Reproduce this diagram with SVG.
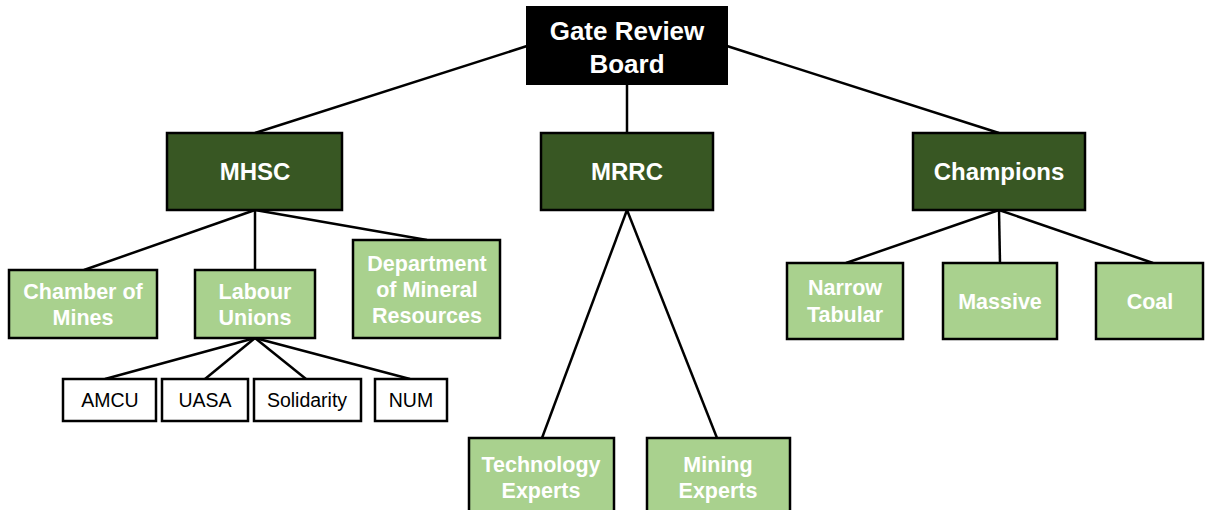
<svg xmlns="http://www.w3.org/2000/svg" width="1206" height="510" viewBox="0 0 1206 510">
<style>
.dk{fill:#385723;stroke:#000;stroke-width:2.5}
.lt{fill:#a9d18e;stroke:#000;stroke-width:2.5}
.wh{fill:#fff;stroke:#000;stroke-width:2.5}
.tw{font-family:"Liberation Sans",Arial,sans-serif;font-weight:bold;fill:#fff;text-anchor:middle}
.tb{font-family:"Liberation Sans",Arial,sans-serif;fill:#000;text-anchor:middle;font-size:19.5px}
.c{stroke:#000;stroke-width:2.5;fill:none}
</style>
<rect width="1206" height="510" fill="#fff"/>
<g id="connectors" class="c">
<line x1="527" y1="46" x2="255" y2="133"/>
<line x1="627" y1="84" x2="627" y2="133"/>
<line x1="727" y1="46" x2="999" y2="133"/>
<line x1="255" y1="210" x2="84" y2="270"/>
<line x1="255" y1="210" x2="255" y2="270"/>
<line x1="255" y1="210" x2="427" y2="240"/>
<line x1="255" y1="338" x2="105" y2="379"/>
<line x1="255" y1="338" x2="205" y2="379"/>
<line x1="255" y1="338" x2="306" y2="379"/>
<line x1="255" y1="338" x2="410" y2="379"/>
<line x1="627" y1="210" x2="542" y2="438"/>
<line x1="627" y1="210" x2="717" y2="438"/>
<line x1="999" y1="210" x2="846" y2="263"/>
<line x1="999" y1="210" x2="1000" y2="263"/>
<line x1="999" y1="210" x2="1153" y2="263"/>
</g>
<g id="gate">
<rect x="527" y="7" width="200" height="77" fill="#000" stroke="#000" stroke-width="2"/>
<text class="tw" font-size="26" x="627" y="40">Gate Review</text>
<text class="tw" font-size="26" x="627" y="73">Board</text>
</g>
<g id="mhsc"><rect class="dk" x="167" y="133" width="175" height="77"/><text class="tw" font-size="24" x="255" y="180">MHSC</text></g>
<g id="mrrc"><rect class="dk" x="541" y="133" width="172" height="77"/><text class="tw" font-size="24" x="627" y="180">MRRC</text></g>
<g id="champions"><rect class="dk" x="913" y="133" width="172" height="77"/><text class="tw" font-size="24" x="999" y="180">Champions</text></g>
<g id="chamber"><rect class="lt" x="9" y="270" width="148" height="68"/><text class="tw" font-size="21.5" x="83" y="299">Chamber of</text><text class="tw" font-size="21.5" x="83" y="325">Mines</text></g>
<g id="labour"><rect class="lt" x="195" y="270" width="120" height="68"/><text class="tw" font-size="21.5" x="255" y="299">Labour</text><text class="tw" font-size="21.5" x="255" y="325">Unions</text></g>
<g id="dmr"><rect class="lt" x="353" y="240" width="147" height="98"/><text class="tw" font-size="21.5" x="427" y="271">Department</text><text class="tw" font-size="21.5" x="427" y="297">of Mineral</text><text class="tw" font-size="21.5" x="427" y="323">Resources</text></g>
<g id="amcu"><rect class="wh" x="63" y="379" width="93" height="42"/><text class="tb" x="110" y="407">AMCU</text></g>
<g id="uasa"><rect class="wh" x="162" y="379" width="86" height="42"/><text class="tb" x="205" y="407">UASA</text></g>
<g id="solidarity"><rect class="wh" x="254" y="379" width="107" height="42"/><text class="tb" x="307" y="407">Solidarity</text></g>
<g id="num"><rect class="wh" x="375" y="379" width="72" height="42"/><text class="tb" x="411" y="407">NUM</text></g>
<g id="tech"><rect class="lt" x="469" y="438" width="145" height="80"/><text class="tw" font-size="21.5" x="541" y="472">Technology</text><text class="tw" font-size="21.5" x="541" y="498">Experts</text></g>
<g id="mining"><rect class="lt" x="647" y="438" width="143" height="80"/><text class="tw" font-size="21.5" x="718" y="472">Mining</text><text class="tw" font-size="21.5" x="718" y="498">Experts</text></g>
<g id="narrow"><rect class="lt" x="787" y="263" width="116" height="76"/><text class="tw" font-size="21.5" x="845" y="295">Narrow</text><text class="tw" font-size="21.5" x="845" y="322">Tabular</text></g>
<g id="massive"><rect class="lt" x="943" y="263" width="114" height="76"/><text class="tw" font-size="21.5" x="1000" y="309">Massive</text></g>
<g id="coal"><rect class="lt" x="1096" y="263" width="107" height="76"/><text class="tw" font-size="21.5" x="1150" y="309">Coal</text></g>
</svg>
